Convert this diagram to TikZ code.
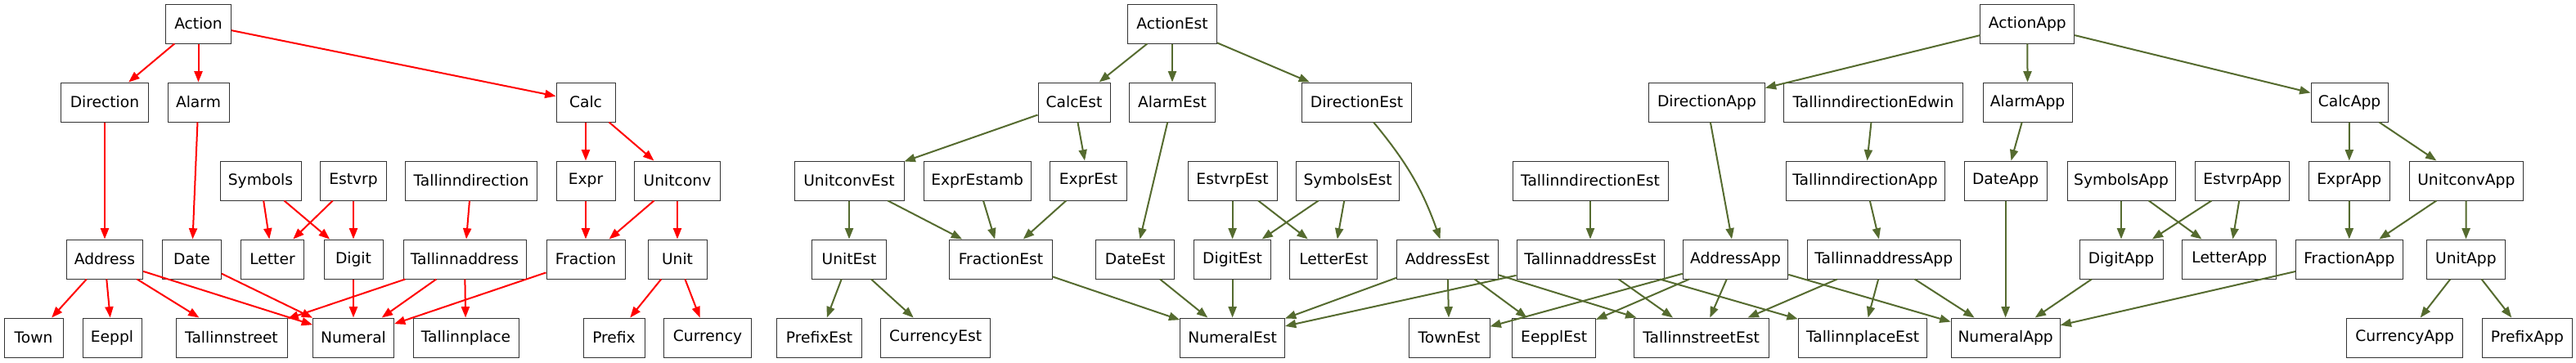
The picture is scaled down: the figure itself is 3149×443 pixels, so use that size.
\documentclass[tikz,border=0pt]{standalone}
\usepackage{fontspec}
\setmainfont{DejaVu Sans}
\usetikzlibrary{arrows.meta}
\definecolor{olive}{HTML}{556B2F}
\definecolor{boxline}{HTML}{333333}
\tikzset{
  box/.style={draw=boxline, line width=0.75pt, rectangle, minimum height=36pt, inner xsep=0pt, inner ysep=0pt, font=\fontsize{14}{16}\selectfont, fill=white},
  bw/.style={minimum width=#1*0.75pt},
  redge/.style={draw=red, line width=1.5pt, -{Triangle[length=10pt,width=7.5pt]}},
  gedge/.style={draw=olive, line width=1.5pt, -{Triangle[length=10pt,width=7.5pt]}},
}
\begin{document}
\begin{tikzpicture}[x=0.75pt,y=-0.75pt]
\fill[white] (0,0) rectangle (3149,443);
\useasboundingbox (0,0) rectangle (3149,443);
% ---------- left graph ----------
\node[box,bw=80] (Action) at (242.5,29) {Action};
\node[box,bw=107] (Direction) at (128,125) {Direction};
\node[box,bw=75] (Alarm) at (242.5,125) {Alarm};
\node[box,bw=72] (Calc) at (716,125) {Calc};
\node[box,bw=99] (Symbols) at (318.5,221) {Symbols};
\node[box,bw=81] (Estvrp) at (432,221) {Estvrp};
\node[box,bw=161] (Tallinndirection) at (576,221) {Tallinndirection};
\node[box,bw=72] (Expr) at (716,221) {Expr};
\node[box,bw=104.5] (Unitconv) at (828,221) {Unitconv};
\node[box,bw=93.5] (Address) at (128,317) {Address};
\node[box,bw=72] (Date) at (234.5,317) {Date};
\node[box,bw=77.5] (Letter) at (333,317) {Letter};
\node[box,bw=72] (Digit) at (432,317) {Digit};
\node[box,bw=150] (Tallinnaddress) at (568,317) {Tallinnaddress};
\node[box,bw=96] (Fraction) at (716,317) {Fraction};
\node[box,bw=72] (Unit) at (828,317) {Unit};
\node[box,bw=72] (Town) at (41,413) {Town};
\node[box,bw=72] (Eeppl) at (137,413) {Eeppl};
\node[box,bw=136] (Tallinnstreet) at (283,413) {Tallinnstreet};
\node[box,bw=99] (Numeral) at (432,413) {Numeral};
\node[box,bw=129] (Tallinnplace) at (569.5,413) {Tallinnplace};
\node[box,bw=75] (Prefix) at (750.5,413) {Prefix};
\node[box,bw=107] (Currency) at (865,413) {Currency};
% ---------- middle graph ----------
\node[box,bw=109] (ActionEst) at (1433,29) {ActionEst};
\node[box,bw=88] (CalcEst) at (1313,125) {CalcEst};
\node[box,bw=104.5] (AlarmEst) at (1433,125) {AlarmEst};
\node[box,bw=134] (DirectionEst) at (1658.5,125) {DirectionEst};
\node[box,bw=134] (UnitconvEst) at (1038,221) {UnitconvEst};
\node[box,bw=131] (ExprEstamb) at (1194.7,221) {ExprEstamb};
\node[box,bw=94] (ExprEst) at (1330.5,221) {ExprEst};
\node[box,bw=109] (EstvrpEst) at (1506.6,221) {EstvrpEst};
\node[box,bw=126] (SymbolsEst) at (1647.6,221) {SymbolsEst};
\node[box,bw=190] (TallinndirectionEst) at (1944,221) {TallinndirectionEst};
\node[box,bw=91] (UnitEst) at (1038,317) {UnitEst};
\node[box,bw=125.5] (FractionEst) at (1223.5,317) {FractionEst};
\node[box,bw=96] (DateEst) at (1387.7,317) {DateEst};
\node[box,bw=94] (DigitEst) at (1506.6,317) {DigitEst};
\node[box,bw=107] (LetterEst) at (1630.4,317) {LetterEst};
\node[box,bw=123.5] (AddressEst) at (1769.4,317) {AddressEst};
\node[box,bw=180] (TallinnaddressEst) at (1944,317) {TallinnaddressEst};
\node[box,bw=104] (PrefixEst) at (1001.5,413) {PrefixEst};
\node[box,bw=134] (CurrencyEst) at (1143.6,413) {CurrencyEst};
\node[box,bw=127.7] (NumeralEst) at (1506.6,413) {NumeralEst};
\node[box,bw=99] (TownEst) at (1771.5,413) {TownEst};
\node[box,bw=101.5] (EepplEst) at (1899.7,413) {EepplEst};
\node[box,bw=165] (TallinnstreetEst) at (2079.6,413) {TallinnstreetEst};
\node[box,bw=157.6] (TallinnplaceEst) at (2277,413) {TallinnplaceEst};
% ---------- right graph ----------
\node[box,bw=114.7] (ActionApp) at (2478.3,29) {ActionApp};
\node[box,bw=141.8] (DirectionApp) at (2086.4,125) {DirectionApp};
\node[box,bw=218.3] (TallinndirectionEdwin) at (2290,125) {TallinndirectionEdwin};
\node[box,bw=109] (AlarmApp) at (2478.6,125) {AlarmApp};
\node[box,bw=94] (CalcApp) at (2872,125) {CalcApp};
\node[box,bw=194] (TallinndirectionApp) at (2280,221) {TallinndirectionApp};
\node[box,bw=101] (DateApp) at (2451.6,221) {DateApp};
\node[box,bw=132] (SymbolsApp) at (2593,221) {SymbolsApp};
\node[box,bw=114.7] (EstvrpApp) at (2741.3,221) {EstvrpApp};
\node[box,bw=98.8] (ExprApp) at (2871.7,221) {ExprApp};
\node[box,bw=139.4] (UnitconvApp) at (3014.8,221) {UnitconvApp};
\node[box,bw=128.6] (AddressApp) at (2121.5,317) {AddressApp};
\node[box,bw=187] (TallinnaddressApp) at (2302.7,317) {TallinnaddressApp};
\node[box,bw=102] (DigitApp) at (2593,317) {DigitApp};
\node[box,bw=114.7] (LetterApp) at (2725.3,317) {LetterApp};
\node[box,bw=130.6] (FractionApp) at (2871.8,317) {FractionApp};
\node[box,bw=95.6] (UnitApp) at (3014.4,317) {UnitApp};
\node[box,bw=133] (NumeralApp) at (2451.6,413) {NumeralApp};
\node[box,bw=141.8] (CurrencyApp) at (2939.6,413) {CurrencyApp};
\node[box,bw=110] (PrefixApp) at (3089.4,413) {PrefixApp};
% ---------- left edges ----------
\begin{scope}[every path/.style={redge}]
\draw (Action) -- (Direction);
\draw (Action) -- (Alarm);
\draw (Action) -- (Calc);
\draw (Direction) -- (Address);
\draw (Alarm) -- (Date);
\draw (Calc) -- (Expr);
\draw (Calc) -- (Unitconv);
\draw (Symbols) -- (Letter);
\draw (Symbols) -- (Digit);
\draw (Estvrp) -- (Letter);
\draw (Estvrp) -- (Digit);
\draw (Tallinndirection) -- (Tallinnaddress);
\draw (Expr) -- (Fraction);
\draw (Unitconv) -- (Fraction);
\draw (Unitconv) -- (Unit);
\draw (Address) -- (Town);
\draw (Address) -- (Eeppl);
\draw (Address) -- (Tallinnstreet);
\draw (Address) -- (Numeral);
\draw (Date) -- (Numeral);
\draw (Digit) -- (Numeral);
\draw (Tallinnaddress) -- (Tallinnstreet);
\draw (Tallinnaddress) -- (Numeral);
\draw (Tallinnaddress) -- (Tallinnplace);
\draw (Fraction) -- (Numeral);
\draw (Unit) -- (Prefix);
\draw (Unit) -- (Currency);
\end{scope}
% ---------- middle edges ----------
\begin{scope}[every path/.style={gedge}]
\draw (ActionEst) -- (CalcEst);
\draw (ActionEst) -- (AlarmEst);
\draw (ActionEst) -- (DirectionEst);
\draw (CalcEst) -- (UnitconvEst);
\draw (CalcEst) -- (ExprEst);
\draw (AlarmEst) -- (DateEst);
\draw (DirectionEst) to[bend left=10] (AddressEst);
\draw (UnitconvEst) -- (UnitEst);
\draw (UnitconvEst) -- (FractionEst);
\draw (ExprEstamb) -- (FractionEst);
\draw (ExprEst) -- (FractionEst);
\draw (EstvrpEst) -- (DigitEst);
\draw (EstvrpEst) -- (LetterEst);
\draw (SymbolsEst) -- (DigitEst);
\draw (SymbolsEst) -- (LetterEst);
\draw (TallinndirectionEst) -- (TallinnaddressEst);
\draw (UnitEst) -- (PrefixEst);
\draw (UnitEst) -- (CurrencyEst);
\draw (FractionEst) -- (NumeralEst);
\draw (DateEst) -- (NumeralEst);
\draw (DigitEst) -- (NumeralEst);
\draw (AddressEst) -- (NumeralEst);
\draw (AddressEst) -- (TownEst);
\draw (AddressEst) -- (EepplEst);
\draw (AddressEst) -- (TallinnstreetEst);
\draw (TallinnaddressEst) -- (NumeralEst);
\draw (TallinnaddressEst) -- (TallinnstreetEst);
\draw (TallinnaddressEst) -- (TallinnplaceEst);
% ---------- right edges ----------
\draw (ActionApp) -- (DirectionApp);
\draw (ActionApp) -- (AlarmApp);
\draw (ActionApp) -- (CalcApp);
\draw (DirectionApp) -- (AddressApp);
\draw (TallinndirectionEdwin) -- (TallinndirectionApp);
\draw (AlarmApp) -- (DateApp);
\draw (CalcApp) -- (ExprApp);
\draw (CalcApp) -- (UnitconvApp);
\draw (TallinndirectionApp) -- (TallinnaddressApp);
\draw (DateApp) -- (NumeralApp);
\draw (SymbolsApp) -- (DigitApp);
\draw (SymbolsApp) -- (LetterApp);
\draw (EstvrpApp) -- (DigitApp);
\draw (EstvrpApp) -- (LetterApp);
\draw (ExprApp) -- (FractionApp);
\draw (UnitconvApp) -- (FractionApp);
\draw (UnitconvApp) -- (UnitApp);
\draw (AddressApp) -- (TownEst);
\draw (AddressApp) -- (EepplEst);
\draw (AddressApp) -- (TallinnstreetEst);
\draw (AddressApp) -- (NumeralApp);
\draw (TallinnaddressApp) -- (TallinnstreetEst);
\draw (TallinnaddressApp) -- (TallinnplaceEst);
\draw (TallinnaddressApp) -- (NumeralApp);
\draw (DigitApp) -- (NumeralApp);
\draw (FractionApp) -- (NumeralApp);
\draw (UnitApp) -- (CurrencyApp);
\draw (UnitApp) -- (PrefixApp);
\end{scope}
\end{tikzpicture}
\end{document}
